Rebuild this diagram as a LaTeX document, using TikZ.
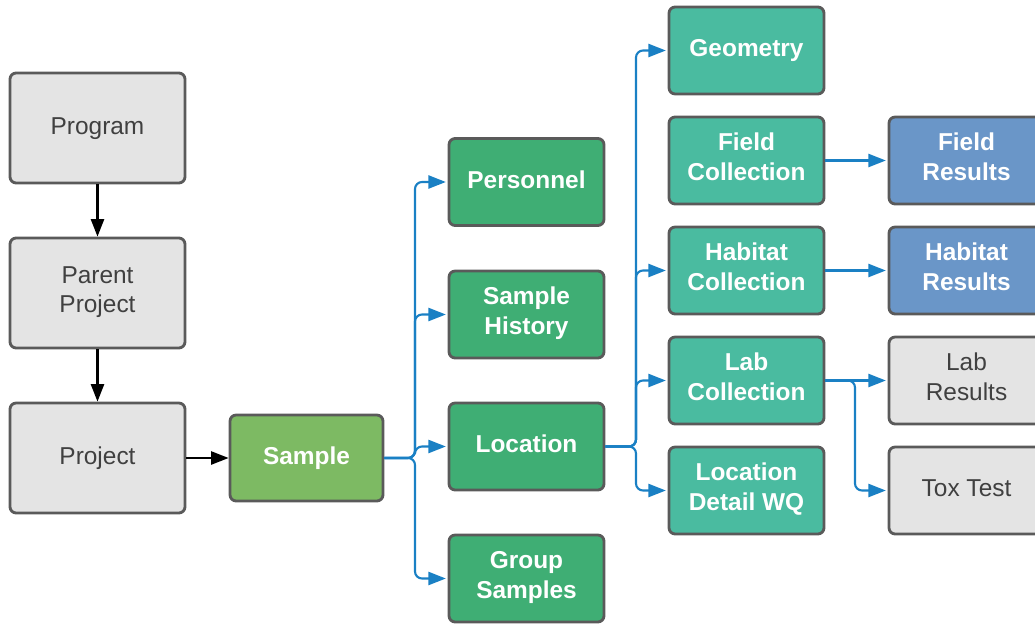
\documentclass[tikz,border=0pt]{standalone}
\usepackage{fontspec}
\setmainfont{Liberation Sans}
\usetikzlibrary{arrows.meta}

\definecolor{boxgray}{HTML}{E4E4E4}
\definecolor{boxline}{HTML}{5A5A5A}
\definecolor{samplegreen}{HTML}{7DBA63}
\definecolor{darkgreen}{HTML}{3FAE74}
\definecolor{tealgreen}{HTML}{4ABBA0}
\definecolor{resultblue}{HTML}{6A96C8}
\definecolor{linkblue}{HTML}{1A80C4}

\tikzset{
  box/.style={rectangle,rounded corners=3.5pt,draw=boxline,line width=1.6pt,
    minimum width=3.1cm,minimum height=1.74cm,align=center,
    text height=10pt,text depth=2.8pt,
    font=\fontsize{13.9}{16.8}\selectfont},
  two/.style={text height=22.4pt,text depth=0pt},
  graybox/.style={box,fill=boxgray,text=black!75},
  bigbox/.style={graybox,minimum width=3.5cm,minimum height=2.2cm},
  colbox/.style={box,fill=#1,text=white,font=\fontsize{13.9}{16.8}\selectfont\bfseries},
  down/.style={draw=black,line width=1.2pt,-{Triangle[length=10pt,width=7.5pt]}},
  link/.style={draw=linkblue,line width=1.2pt,rounded corners=4pt,
    -{Triangle[length=10pt,width=7.5pt]},shorten >=1pt}
}

\begin{document}
\begin{tikzpicture}
  \useasboundingbox (0,0) rectangle (20.7,-12.5);

  % left column
  \node[bigbox] (program) at (1.95,-2.56) {Program};
  \node[bigbox,two] (parent) at (1.95,-5.86) {Parent\\Project};
  \node[bigbox] (project) at (1.95,-9.16) {Project};
  \node[colbox=samplegreen,minimum width=3.06cm,minimum height=1.72cm] (sample) at (6.13,-9.16) {Sample};

  % second column
  \node[colbox=darkgreen] (personnel) at (10.53,-3.64) {Personnel};
  \node[colbox=darkgreen,two] (history) at (10.53,-6.29) {Sample\\History};
  \node[colbox=darkgreen] (location) at (10.53,-8.93) {Location};
  \node[colbox=darkgreen,two] (group) at (10.53,-11.57) {Group\\Samples};

  % third column
  \node[colbox=tealgreen] (geometry) at (14.93,-1.01) {Geometry};
  \node[colbox=tealgreen,two] (fieldcoll) at (14.93,-3.21) {Field\\Collection};
  \node[colbox=tealgreen,two] (habitatcoll) at (14.93,-5.41) {Habitat\\Collection};
  \node[colbox=tealgreen,two] (labcoll) at (14.93,-7.61) {Lab\\Collection};
  \node[colbox=tealgreen,two] (detailwq) at (14.93,-9.81) {Location\\Detail WQ};

  % results
  \node[colbox=resultblue,two] (fieldres) at (19.33,-3.21) {Field\\Results};
  \node[colbox=resultblue,two] (habitatres) at (19.33,-5.41) {Habitat\\Results};
  \node[graybox,two] (labres) at (19.33,-7.61) {Lab\\Results};
  \node[graybox] (toxtest) at (19.33,-9.81) {Tox Test};

  % hierarchy
  \draw[down] (program) -- (parent);
  \draw[down] (parent) -- (project);
  \draw[down] (project) -- (sample);

  % branches
  \coordinate (split1) at (8.3,-9.16);
  \coordinate (split2) at (12.72,-8.93);
  \coordinate (split3) at (17.1,-7.61);
  \foreach \n in {personnel,history,location,group}
    \draw[link] (sample.east) -- (split1) |- (\n.west);
  \foreach \n in {geometry,habitatcoll,labcoll,detailwq}
    \draw[link] (location.east) -- (split2) |- (\n.west);
  \draw[link] (fieldcoll) -- (fieldres);
  \draw[link] (habitatcoll) -- (habitatres);
  \draw[link] (labcoll) -- (labres);
  \draw[link] (labcoll.east) -- (split3) |- (toxtest.west);
\end{tikzpicture}
\end{document}
